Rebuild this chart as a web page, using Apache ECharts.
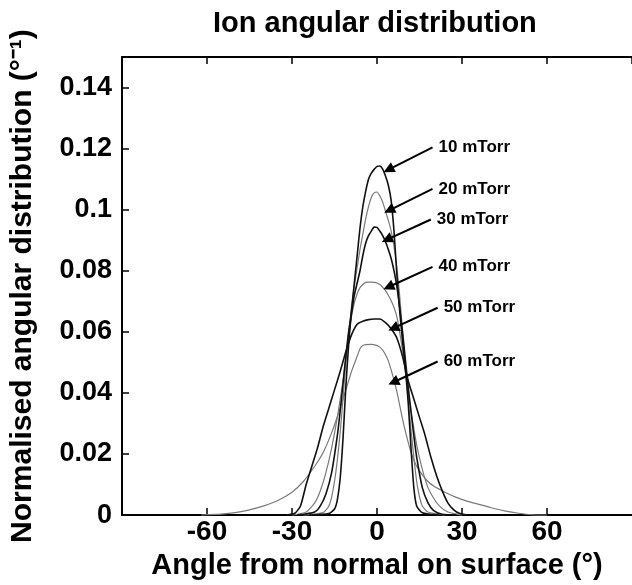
<!DOCTYPE html>
<html>
<head>
<meta charset="utf-8">
<script src="https://cdn.jsdelivr.net/npm/echarts@6/dist/echarts.min.js"></script>
<style>
  html, body { margin: 0; padding: 0; background: #fff; }
  #chart { width: 632px; height: 585px; }
</style>
</head>
<body>
<div id="chart"></div>
<script>
// angle (deg), normalised angular distribution per pressure
var p10 = [[-24,0],[-17,0.0005],[-15,0.002],[-14,0.005],[-13,0.012],[-12,0.025],[-11,0.042],[-10,0.056],[-9,0.067],[-8,0.076],[-7,0.085],[-6,0.094],[-5,0.101],[-4,0.106],[-3,0.110],[-2,0.112],[-1,0.1132],[0,0.1142],[1,0.1143],[2,0.1133],[3,0.111],[4,0.108],[5,0.103],[6,0.093],[7,0.079],[8,0.067],[9,0.057],[10,0.048],[11,0.037],[12,0.022],[13,0.009],[14,0.003],[16,0.0008],[22,0]];
var p20 = [[-26,0],[-19,0.0008],[-17,0.003],[-16,0.006],[-15,0.011],[-14,0.018],[-13,0.027],[-12,0.038],[-11,0.050],[-10,0.060],[-9,0.068],[-8,0.075],[-7,0.081],[-6,0.087],[-5,0.092],[-4,0.097],[-3,0.101],[-2,0.104],[-1,0.1055],[0,0.1058],[1,0.1045],[2,0.1025],[3,0.0995],[4,0.0965],[5,0.093],[6,0.088],[7,0.081],[8,0.072],[9,0.060],[10,0.049],[11,0.038],[12,0.028],[13,0.019],[14,0.011],[15,0.006],[16,0.003],[18,0.001],[24,0]];
var p30 = [[-28,0],[-22,0.001],[-20,0.003],[-18,0.007],[-16,0.014],[-14,0.026],[-13,0.034],[-12,0.043],[-11,0.052],[-10,0.060],[-9,0.066],[-8,0.072],[-7,0.076],[-6,0.080],[-5,0.085],[-4,0.089],[-3,0.0915],[-2,0.093],[-1,0.0943],[0,0.0942],[1,0.093],[2,0.0915],[3,0.0895],[4,0.087],[5,0.084],[6,0.080],[7,0.075],[8,0.068],[9,0.060],[10,0.051],[11,0.042],[12,0.034],[13,0.026],[14,0.019],[16,0.009],[18,0.004],[20,0.0015],[23,0.0003],[28,0]];
var p40 = [[-30,0],[-25,0.001],[-22,0.004],[-20,0.008],[-18,0.014],[-16,0.022],[-14,0.032],[-12,0.044],[-10,0.058],[-9,0.065],[-8,0.0695],[-7,0.0725],[-6,0.0745],[-5,0.0755],[-4,0.0762],[-3,0.0763],[-2,0.0763],[-1,0.0762],[0,0.076],[1,0.0755],[2,0.0746],[3,0.0735],[4,0.072],[5,0.0702],[6,0.068],[7,0.065],[8,0.060],[9,0.054],[10,0.047],[11,0.040],[12,0.034],[14,0.023],[16,0.015],[18,0.009],[20,0.0055],[22,0.003],[25,0.001],[30,0]];
var p50 = [[-32,0],[-29,0.0006],[-27,0.003],[-25,0.010],[-23,0.016],[-21,0.022],[-19,0.029],[-17,0.035],[-15,0.041],[-13,0.047],[-11,0.0535],[-9,0.059],[-7,0.0625],[-5,0.0635],[-3,0.064],[-1,0.0642],[1,0.0642],[3,0.063],[5,0.061],[7,0.058],[9,0.052],[11,0.044],[13,0.038],[15,0.032],[17,0.026],[19,0.019],[21,0.013],[23,0.008],[25,0.004],[27,0.0018],[29,0.0006],[32,0]];
var p60 = [[-62,0],[-55,0.0003],[-50,0.0008],[-45,0.0017],[-40,0.003],[-35,0.0048],[-30,0.0075],[-26,0.011],[-22,0.016],[-19,0.0205],[-16,0.027],[-13,0.035],[-11,0.041],[-9,0.047],[-7,0.052],[-6,0.0545],[-5,0.0555],[-4,0.0558],[-2,0.0559],[0,0.0555],[1,0.055],[2,0.054],[3,0.0525],[4,0.0505],[5,0.0475],[6,0.0442],[7,0.0405],[8,0.036],[9,0.0315],[10,0.0275],[12,0.0205],[14,0.016],[16,0.0132],[18,0.011],[20,0.0095],[24,0.0075],[28,0.0058],[32,0.0045],[36,0.0035],[40,0.0025],[45,0.0014],[50,0.0006],[55,0.0001],[60,0]];

var names = ['10 mTorr', '20 mTorr', '30 mTorr', '40 mTorr', '50 mTorr', '60 mTorr'];
var curves = [p10, p20, p30, p40, p50, p60];
// arrow from label [deg, value] to curve [deg, value]
var arrowFrom = [[19.6,0.1204],[19.6,0.1068],[19.0,0.0968],[19.6,0.0813],[21.4,0.0679],[21.4,0.0503]];
var arrowTo = [[4.05,0.1131],[4.3,0.0998],[3.5,0.0902],[4.05,0.0747],[5.8,0.0612],[5.8,0.0435]];

var font = 'Liberation Sans, Arial, sans-serif';
var chart = echarts.init(document.getElementById('chart'));

var series = curves.map(function (d, i) {
  var dark = i % 2 === 0;
  return {
    name: names[i],
    type: 'line',
    data: d,
    showSymbol: false,
    smooth: 0.2,
    lineStyle: { color: dark ? '#111' : '#7a7a7a', width: dark ? 1.6 : 1.2 },
    z: dark ? 3 : 2,
    markLine: {
      silent: true,
      symbol: ['none', 'triangle'],
      symbolSize: 11,
      lineStyle: { color: '#000', width: 2, type: 'solid' },
      label: { show: false },
      data: [[{ coord: arrowFrom[i] }, { coord: arrowTo[i] }]]
    },
    markPoint: {
      silent: true,
      symbol: 'circle',
      symbolSize: 0,
      label: {
        show: true,
        position: 'right',
        distance: 6,
        formatter: names[i],
        color: '#000',
        fontFamily: font,
        fontWeight: 'bold',
        fontSize: 17
      },
      data: [{ coord: arrowFrom[i] }]
    }
  };
});

var option = {
  animation: false,
  title: {
    text: 'Ion angular distribution',
    left: 208,
    top: 4,
    textStyle: { fontFamily: font, fontWeight: 'bold', fontSize: 29, color: '#000' }
  },
  grid: { left: 122, right: -6, top: 57, bottom: 62 },
  xAxis: [{
    type: 'value',
    min: -90, max: 90, interval: 30,
    name: 'Angle from normal on surface (°)',
    nameLocation: 'middle',
    nameGap: 30,
    nameTextStyle: { fontFamily: font, fontWeight: 'bold', fontSize: 29, color: '#000' },
    axisLine: { onZero: false, lineStyle: { color: '#000', width: 2 } },
    axisTick: { inside: true, length: 7, lineStyle: { color: '#000', width: 1.5 } },
    axisLabel: { showMinLabel: false, showMaxLabel: false, margin: 3, fontFamily: font, fontWeight: 'bold', fontSize: 28, color: '#000' },
    splitLine: { show: false }
  }, {
    type: 'value',
    position: 'top',
    min: -90, max: 90, interval: 30,
    axisLine: { onZero: false, lineStyle: { color: '#000', width: 2 } },
    axisTick: { inside: true, length: 7, lineStyle: { color: '#000', width: 1.5 } },
    axisLabel: { show: false },
    splitLine: { show: false }
  }],
  yAxis: {
    type: 'value',
    min: 0, max: 0.15, interval: 0.02,
    name: 'Normalised angular distribution (°⁻¹)',
    nameLocation: 'middle',
    nameRotate: 90,
    nameGap: 84,
    nameTextStyle: { fontFamily: font, fontWeight: 'bold', fontSize: 30, color: '#000' },
    axisLine: { onZero: false, lineStyle: { color: '#000', width: 2 } },
    axisTick: { inside: true, length: 7, lineStyle: { color: '#000', width: 1.5 } },
    axisLabel: { showMaxLabel: false, margin: 10, fontFamily: font, fontWeight: 'bold', fontSize: 27, color: '#000' },
    splitLine: { show: false }
  },
  series: series
};

chart.setOption(option);
</script>
</body>
</html>
